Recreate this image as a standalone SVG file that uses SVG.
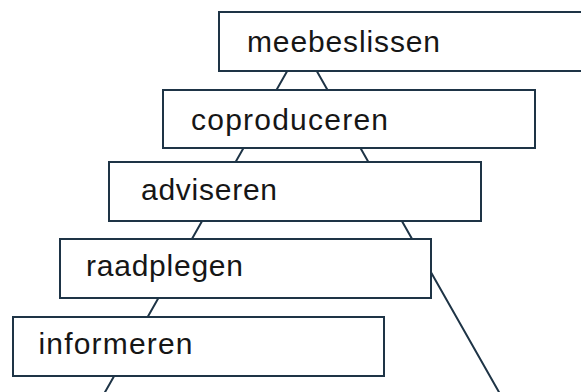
<svg xmlns="http://www.w3.org/2000/svg" width="581" height="392" viewBox="0 0 581 392">
<style>
.box{fill:#ffffff;stroke:#1e3446;stroke-width:2}
.edge{fill:none;stroke:#1e3446;stroke-width:2}
.lbl{font-family:"Liberation Sans",Arial,sans-serif;font-size:30px;fill:#161616}
</style>
<rect width="581" height="392" fill="#ffffff"/>
<g id="connectors">
<polyline class="edge" points="96,408 302,45 508,408"/>
</g>
<g id="meebeslissen">
<rect class="box" x="219" y="12" width="375" height="59"/>
<text class="lbl" x="247" y="52" textLength="193" lengthAdjust="spacing">meebeslissen</text>
</g>
<g id="coproduceren">
<rect class="box" x="163" y="90" width="372" height="58"/>
<text class="lbl" x="191" y="129.5" textLength="197" lengthAdjust="spacing">coproduceren</text>
</g>
<g id="adviseren">
<rect class="box" x="109" y="162" width="372" height="59"/>
<text class="lbl" x="141" y="199.5" textLength="136" lengthAdjust="spacing">adviseren</text>
</g>
<g id="raadplegen">
<rect class="box" x="60" y="239" width="371" height="59"/>
<text class="lbl" x="86" y="276" textLength="157" lengthAdjust="spacing">raadplegen</text>
</g>
<g id="informeren">
<rect class="box" x="13" y="317" width="371" height="59"/>
<text class="lbl" x="38.5" y="354" textLength="154" lengthAdjust="spacing">informeren</text>
</g>
</svg>
